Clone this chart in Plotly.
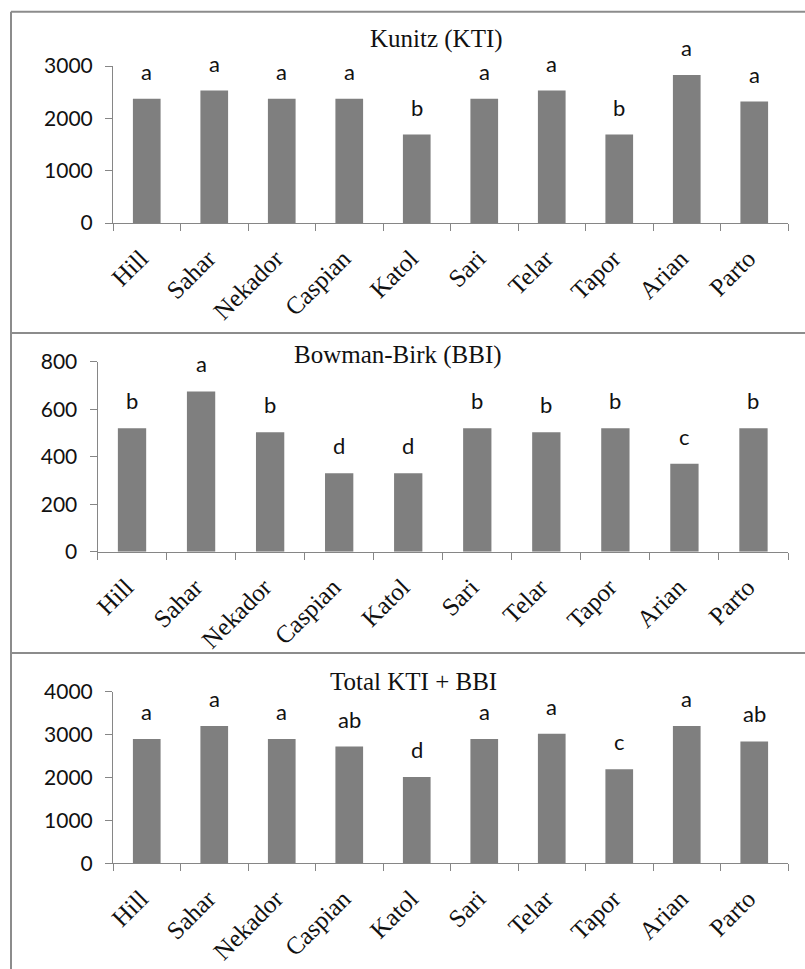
import plotly.graph_objects as go

W, H = 805, 969

categories = ["Hill", "Sahar", "Nekador", "Caspian", "Katol", "Sari", "Telar", "Tapor", "Arian", "Parto"]

kti_values = [2375, 2530, 2375, 2375, 1690, 2375, 2530, 1690, 2830, 2320]
kti_letters = ["a", "a", "a", "a", "b", "a", "a", "b", "a", "a"]

bbi_values = [520, 675, 503, 330, 330, 520, 503, 520, 370, 520]
bbi_letters = ["b", "a", "b", "d", "d", "b", "b", "b", "c", "b"]

total_values = [2900, 3200, 2900, 2720, 2010, 2900, 3020, 2190, 3200, 2840]
total_letters = ["a", "a", "a", "ab", "d", "a", "a", "c", "a", "ab"]

titles = ["Kunitz (KTI)", "Bowman-Birk (BBI)", "Total KTI + BBI"]
y_max = [3000, 800, 4000]
y_dtick = [1000, 200, 1000]

# pixel geometry of each panel (left, right of x-axis; y pixel of zero and of max)
panel_geom = [
    dict(x0=113, x1=788, ybot=223, ytop=66, tx=436, ty=39),
    dict(x0=97.5, x1=788, ybot=551.7, ytop=361.7, tx=398, ty=355),
    dict(x0=113, x1=788, ybot=863.3, ytop=691.7, tx=414, ty=681),
]

series = [(kti_values, kti_letters), (bbi_values, bbi_letters), (total_values, total_letters)]

BAR = "#7f7f7f"
AXIS = "#868686"
FRAME = "#8c8c8c"

fig = go.Figure()
layout = dict(
    width=W, height=H,
    margin=dict(l=0, r=0, t=0, b=0),
    paper_bgcolor="white", plot_bgcolor="white",
    showlegend=False, bargap=0.59,
    annotations=[], shapes=[],
)

for i, ((vals, letters), g) in enumerate(zip(series, panel_geom)):
    n = "" if i == 0 else str(i + 1)
    xa, ya = "x" + n, "y" + n
    fig.add_trace(go.Bar(
        x=categories, y=vals, xaxis=xa, yaxis=ya,
        marker=dict(color=BAR, line=dict(width=0)),
        hoverinfo="skip",
    ))
    layout["xaxis" + n] = dict(
        domain=[g["x0"] / W, g["x1"] / W], anchor=ya,
        type="category", range=[-0.5, len(categories) - 0.5],
        showline=True, linecolor=AXIS, linewidth=1,
        ticks="outside", ticklen=7, tickcolor=AXIS, tickson="boundaries",
        tickangle=-45, showgrid=False, zeroline=False, automargin=False,
        ticklabelstandoff=10, ticklabelshift=-6,
        tickfont=dict(family="Liberation Serif", size=25, color="#111"),
    )
    layout["yaxis" + n] = dict(
        domain=[1 - g["ybot"] / H, 1 - g["ytop"] / H], anchor=xa,
        range=[0, y_max[i]], dtick=y_dtick[i], tick0=0,
        showline=True, linecolor=AXIS, linewidth=1,
        ticks="outside", ticklen=7, tickcolor=AXIS,
        ticklabelstandoff=8,
        showgrid=False, zeroline=False, automargin=False,
        tickfont=dict(family="Lato", size=21, color="#111"),
    )
    for c, v, l in zip(categories, vals, letters):
        layout["annotations"].append(dict(
            x=c, y=v, xref=xa, yref=ya, text=l, showarrow=False,
            yanchor="bottom", yshift=12,
            font=dict(family="Lato", size=22, color="#111"),
        ))
    layout["annotations"].append(dict(
        x=g["tx"] / W, y=1 - g["ty"] / H, xref="paper", yref="paper",
        text=titles[i], showarrow=False, xanchor="center", yanchor="middle",
        font=dict(family="Liberation Serif", size=25, color="#111"),
    ))

# panel frames
top = 1 - 11.7 / H
left = 11 / W
layout["shapes"] += [
    dict(type="line", xref="paper", yref="paper", x0=left, x1=1, y0=top, y1=top,
         line=dict(color=FRAME, width=2)),
    dict(type="line", xref="paper", yref="paper", x0=left, x1=left, y0=0, y1=top,
         line=dict(color=FRAME, width=2)),
]
for sep in (333, 653):
    yy = 1 - sep / H
    layout["shapes"].append(dict(type="line", xref="paper", yref="paper", x0=left, x1=1,
                                 y0=yy, y1=yy, line=dict(color=FRAME, width=2)))

fig.update_layout(**layout)
fig.write_html("out.html", config={"displayModeBar": False},
               post_script="document.body.style.margin='0';")
